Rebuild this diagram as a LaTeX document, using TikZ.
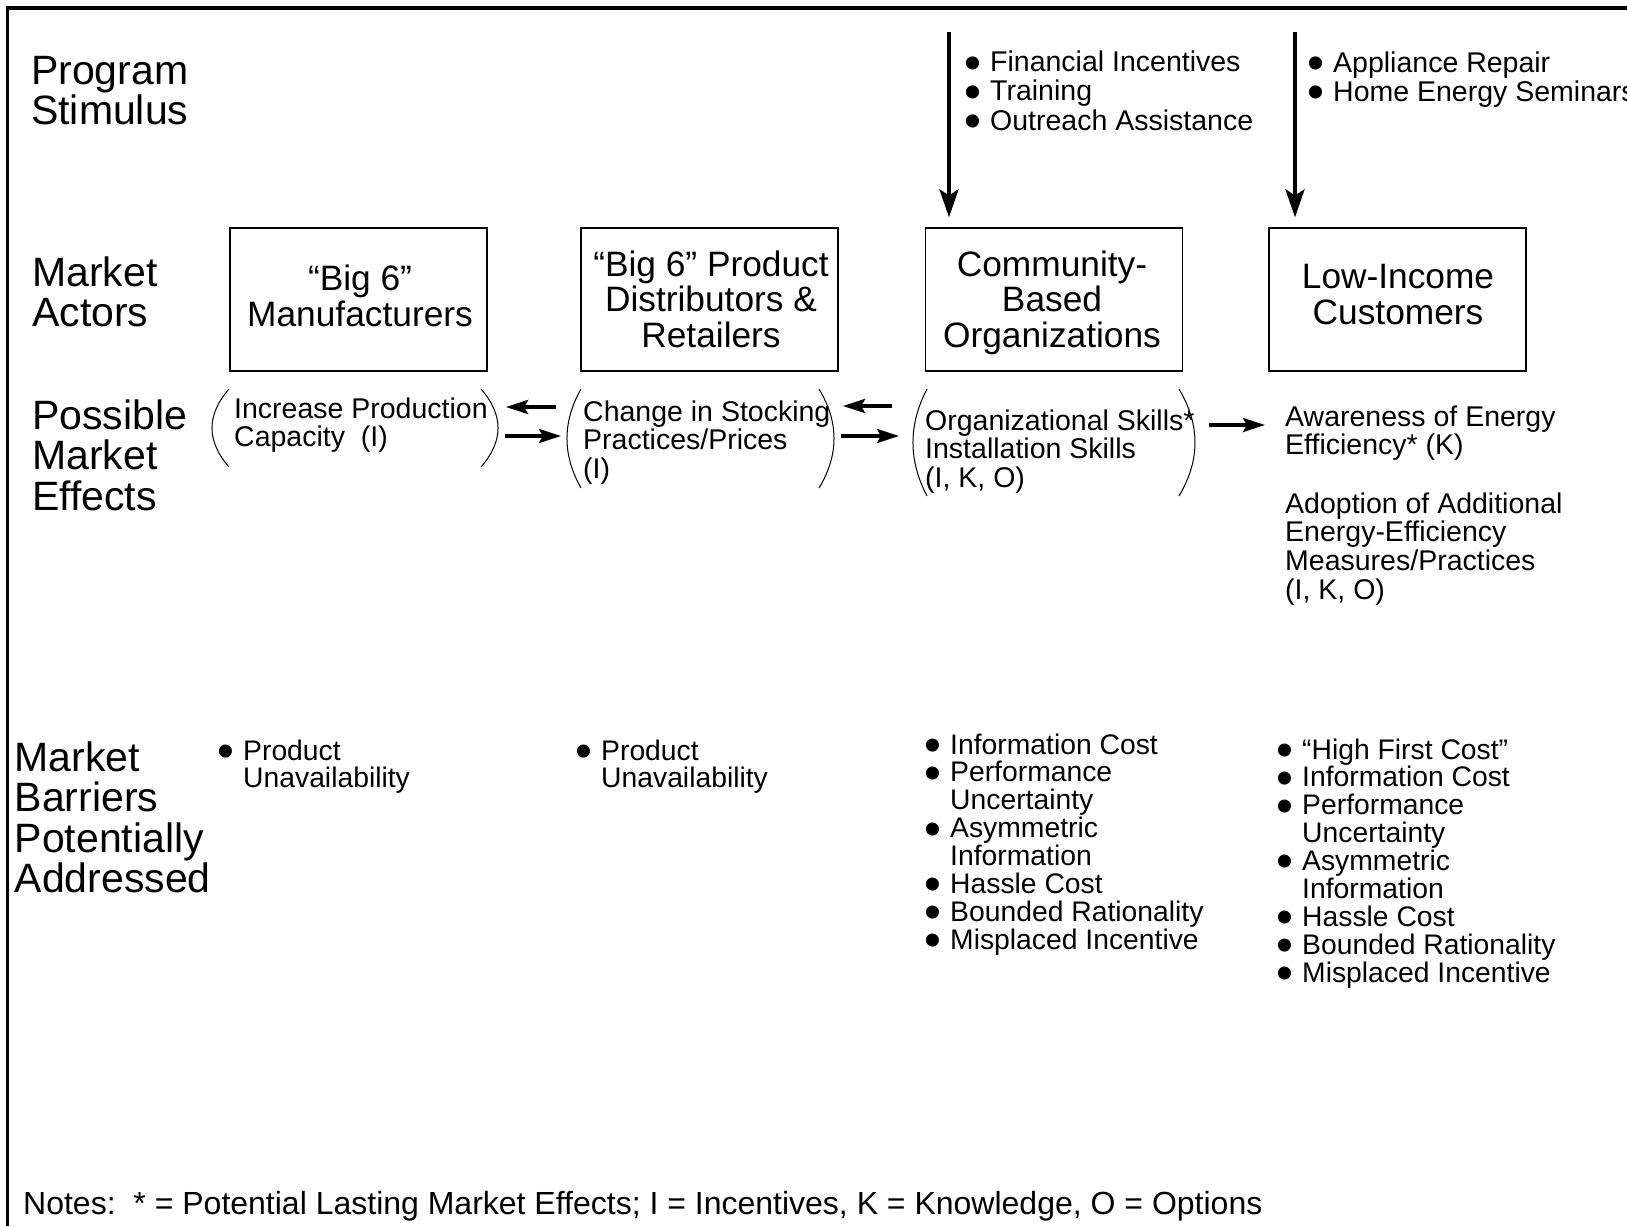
\documentclass[tikz,border=0pt]{standalone}
\usepackage{fontspec}
\setmainfont{Liberation Sans}
\usetikzlibrary{arrows.meta}
\newcommand\bl{\makebox[26pt][l]{\raisebox{-0.26em}{\scalebox{1.7}{\textbullet}}}}
\newcommand\hg{\hspace*{26pt}}
\begin{document}
\begin{tikzpicture}[x=1pt,y=-1pt,
  lbl/.style={inner sep=0, anchor=base west, align=left, font=\fontsize{41}{40.6}\selectfont},
  actor/.style={draw, line width=1.2pt, minimum width=257pt, minimum height=143pt, inner sep=0},
  boxtxt/.style={inner sep=0, anchor=base, align=center, font=\fontsize{35.3}{35.5}\selectfont},
  eff/.style={inner sep=0, anchor=base west, align=left, font=\fontsize{28.5}{28.8}\selectfont},
  lst/.style={inner sep=0, anchor=base west, align=left, font=\fontsize{28.3}{27.9}\selectfont},
  stim/.style={inner sep=0, anchor=base west, align=left, font=\fontsize{28.5}{27.5}\selectfont},
  thk/.style={line width=3.8pt, -{Stealth[length=22pt,width=14pt,inset=4pt]}},
  stimarrow/.style={line width=3.8pt, -{Stealth[length=28pt,width=19pt,inset=6pt]}},
  paren/.style={line width=1pt},
  frame/.style={line width=3.5pt}]
\useasboundingbox (0,0) rectangle (1627,1226);
% frame
\coordinate (fl) at (7.5,1226);
\coordinate (fc) at (7.5,8);
\coordinate (fr) at (1627,8);
\draw[frame] (fl) -- (fc) -- (fr);
% row labels (anchor = baseline of last line)
\node[lbl] (l1) at (31,124.6) {Program\\Stimulus};
\node[lbl] (l2) at (32,326.6) {Market\\Actors};
\node[lbl] (l3) at (32,510.2) {Possible\\Market\\Effects};
\node[lbl] (l4) at (14.5,892.8) {Market\\Barriers\\Potentially\\Addressed};
% actor boxes
\node[actor] (b1) at (358.5,299.5) {};
\node[actor] (b2) at (709.5,299.5) {};
\node[actor] (b3) at (1053.7,299.5) {};
\node[actor] (b4) at (1397.5,299.5) {};
\node[boxtxt] (t1) at (360,326) {“Big 6”\\Manufacturers};
\node[boxtxt] (t2) at (711,347) {“Big 6” Product\\Distributors \&\\Retailers};
\node[boxtxt] (t3) at (1052,347) {Community-\\Based\\Organizations};
\node[boxtxt] (t4) at (1398,324) {Low-Income\\Customers};
% stimulus
\coordinate (s1) at (949,32);
\coordinate (s2) at (1295,32);
\draw[stimarrow] (s1) -- ([yshift=10pt]s1 |- b3.north);
\draw[stimarrow] (s2) -- ([yshift=10pt]s2 |- b4.north);
\node[stim] (st1) at (964,130) {\bl Financial Incentives\\\bl Training\\\bl Outreach Assistance};
\node[stim] (st2) at (1307,101.5) {\bl Appliance Repair\\\bl Home Energy Seminars};
% effects
\node[eff] (e1) at (234,446.8) {Increase Production\\Capacity\ \ (I)};
\node[eff] (e2) at (583,478.6) {Change in Stocking\\Practices/Prices\\(I)};
\node[eff] (e3) at (925,487.6) {Organizational Skills*\\Installation Skills\\(I, K, O)};
\node[eff] (e4a) at (1285,454.8) {Awareness of Energy\\Efficiency* (K)};
\node[eff] (e4b) at (1285,599.4) {Adoption of Additional\\Energy-Efficiency\\Measures/Practices\\(I, K, O)};
% parentheses
\draw[paren] (229,389) .. controls (206.3,415) and (206.3,441) .. (229,467);
\draw[paren] (481,389) .. controls (503.7,415) and (503.7,441) .. (481,467);
\draw[paren] (581,389) .. controls (562.3,422) and (562.3,455) .. (581,488);
\draw[paren] (819,389) .. controls (839,422) and (839,455) .. (819,488);
\draw[paren] (927,389) .. controls (908.3,424.7) and (908.3,460.3) .. (927,496);
\draw[paren] (1179,389) .. controls (1200.3,424.7) and (1200.3,460.3) .. (1179,496);
% effect arrows
\coordinate (a1s) at (556,407); \coordinate (a1e) at (506,407);
\coordinate (a2s) at (505,436); \coordinate (a2e) at (561,436);
\coordinate (a3s) at (892,406); \coordinate (a3e) at (843,406);
\coordinate (a4s) at (841,436); \coordinate (a4e) at (899,436);
\coordinate (a5s) at (1209,425); \coordinate (a5e) at (1265,425);
\draw[thk] (a1s) -- (a1e);
\draw[thk] (a2s) -- (a2e);
\draw[thk] (a3s) -- (a3e);
\draw[thk] (a4s) -- (a4e);
\draw[thk] (a5s) -- (a5e);
% barriers
\node[lst] (m1) at (217,787.9) {\bl Product\\\hg Unavailability};
\node[lst] (m2) at (575,787.9) {\bl Product\\\hg Unavailability};
\node[lst] (m3) at (924,949.3) {\bl Information Cost\\\bl Performance\\\hg Uncertainty\\\bl Asymmetric\\\hg Information\\\bl Hassle Cost\\\bl Bounded Rationality\\\bl Misplaced Incentive};
\node[lst] (m4) at (1276,982.2) {\bl “High First Cost”\\\bl Information Cost\\\bl Performance\\\hg Uncertainty\\\bl Asymmetric\\\hg Information\\\bl Hassle Cost\\\bl Bounded Rationality\\\bl Misplaced Incentive};
% notes
\node[eff, font=\fontsize{32}{32}\selectfont] (notes) at (23,1214.5) {Notes:\ \ * = Potential Lasting Market Effects; I = Incentives, K = Knowledge, O = Options};
\end{tikzpicture}
\end{document}
